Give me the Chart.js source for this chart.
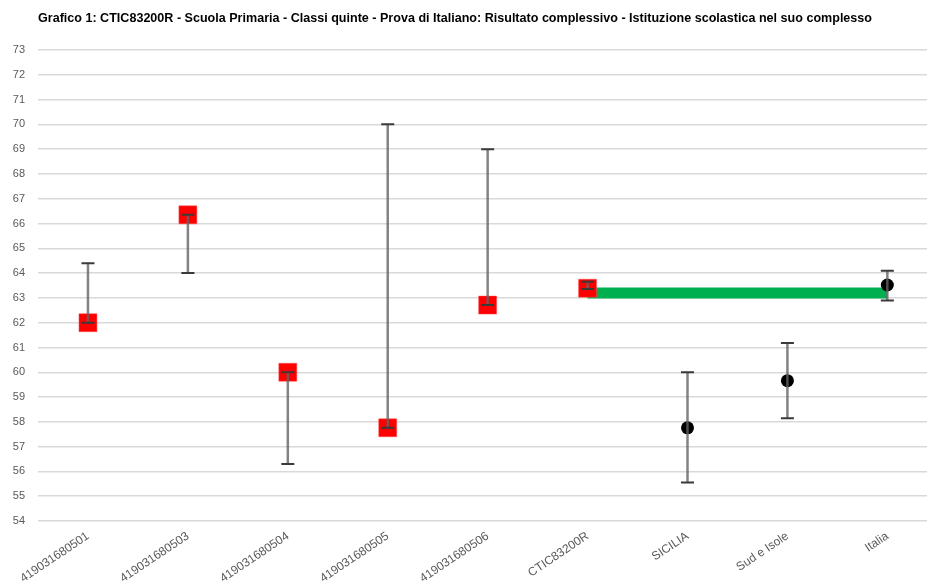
<!DOCTYPE html>
<html>
<head>
<meta charset="utf-8">
<script src="https://cdn.jsdelivr.net/npm/chart.js@4.4.0/dist/chart.umd.min.js"></script>
<style>
  html, body { margin: 0; padding: 0; background: #fff; overflow: hidden; }
  #box { position: absolute; left: 0; top: 0; width: 951px; height: 581px; }
</style>
</head>
<body>
<div id="box"><canvas id="grafico"></canvas></div>
<script>
// dati
var titolo = "Grafico 1: CTIC83200R - Scuola Primaria - Classi quinte - Prova di Italiano: Risultato complessivo - Istituzione scolastica nel suo complesso";
var categorie = ["419031680501", "419031680503", "419031680504", "419031680505", "419031680506", "CTIC83200R", "SICILIA", "Sud e Isole", "Italia"];
var classi = [62.0, 66.35, 60.0, 57.76, 62.71, 63.39, null, null, null];
var riferimenti = [null, null, null, null, null, null, 57.76, 59.66, 63.52];
var limInf = [62.0, 64.0, 56.3, 57.76, 62.71, 63.36, 55.55, 58.14, 62.89];
var limSup = [64.4, 66.35, 60.0, 70.0, 69.0, 63.65, 60.0, 61.18, 64.1];
var fascia = [null, null, null, null, null, 63.2, 63.2, 63.2, 63.2];
var yMin = 54, yMax = 73;

var pluginTitolo = {
    id: 'titolo',
    afterDraw: function(chart){
        var ctx = chart.ctx;
        ctx.save();
        ctx.font = 'bold 13px "Liberation Sans Narrow", "Liberation Sans", Arial';
        ctx.fillStyle = '#000';
        ctx.textBaseline = 'middle';
        var w = ctx.measureText(titolo).width;
        ctx.translate(38, 18);
        ctx.scale(834 / w, 1);
        ctx.fillText(titolo, 0, 0);
        ctx.restore();
    }
};

var pluginErrori = {
    id: 'errori',
    afterDatasetsDraw: function(chart){
        var ctx = chart.ctx;
        var sx = chart.scales.x, sy = chart.scales.y;
        ctx.save();
        for (var i = 0; i < categorie.length; i++) {
            var x = sx.getPixelForValue(i);
            var y1 = sy.getPixelForValue(limInf[i]);
            var y2 = sy.getPixelForValue(limSup[i]);
            ctx.strokeStyle = 'rgba(100,100,100,0.8)';
            ctx.lineWidth = 2.5;
            ctx.beginPath();
            ctx.moveTo(x, y1);
            ctx.lineTo(x, y2);
            ctx.stroke();
            ctx.strokeStyle = '#3a3a3a';
            ctx.lineWidth = 2;
            ctx.beginPath();
            ctx.moveTo(x - 6.5, y1); ctx.lineTo(x + 6.5, y1);
            ctx.moveTo(x - 6.5, y2); ctx.lineTo(x + 6.5, y2);
            ctx.stroke();
        }
        ctx.restore();
    }
};

new Chart(document.getElementById('grafico'), {
    type: 'line',
    data: {
        labels: categorie,
        datasets: [
            {
                label: 'Classi',
                data: classi,
                showLine: false,
                pointStyle: 'rect',
                pointRadius: 12.7,
                pointBackgroundColor: '#ff0000',
                pointBorderColor: 'rgba(255,80,80,0.5)',
                pointBorderWidth: 1,
                order: 1
            },
            {
                label: 'Riferimenti',
                data: riferimenti,
                showLine: false,
                pointStyle: 'circle',
                pointRadius: 6.5,
                pointBackgroundColor: '#000',
                pointBorderColor: '#000',
                pointBorderWidth: 0,
                order: 2
            },
            {
                label: 'Fascia',
                data: fascia,
                borderColor: '#00b050',
                borderWidth: 11,
                borderCapStyle: 'butt',
                pointRadius: 0,
                spanGaps: false,
                order: 3
            }
        ]
    },
    options: {
        responsive: true,
        maintainAspectRatio: false,
        animation: false,
        layout: { padding: { top: 50, right: 4, left: 0, bottom: 0 } },
        plugins: {
            legend: { display: false },
            tooltip: { enabled: false },
            title: { display: false }
        },
        scales: {
            x: {
                offset: true,
                grid: { display: false },
                border: { display: false },
                ticks: {
                    color: '#595959',
                    font: { size: 12, family: '"Liberation Sans", Arial' },
                    minRotation: 34,
                    maxRotation: 34,
                    autoSkip: false,
                    padding: 0
                },
                afterFit: function(s){ s.height = 60; }
            },
            y: {
                min: yMin,
                max: yMax,
                grid: { color: '#d9d9d9', lineWidth: 1.5, drawTicks: false },
                border: { display: false },
                ticks: {
                    stepSize: 1,
                    color: '#595959',
                    font: { size: 11, family: '"Liberation Sans", Arial' },
                    padding: 13
                },
                afterFit: function(s){ s.width = 38; }
            }
        }
    },
    plugins: [pluginTitolo, pluginErrori]
});
</script>
</body>
</html>
